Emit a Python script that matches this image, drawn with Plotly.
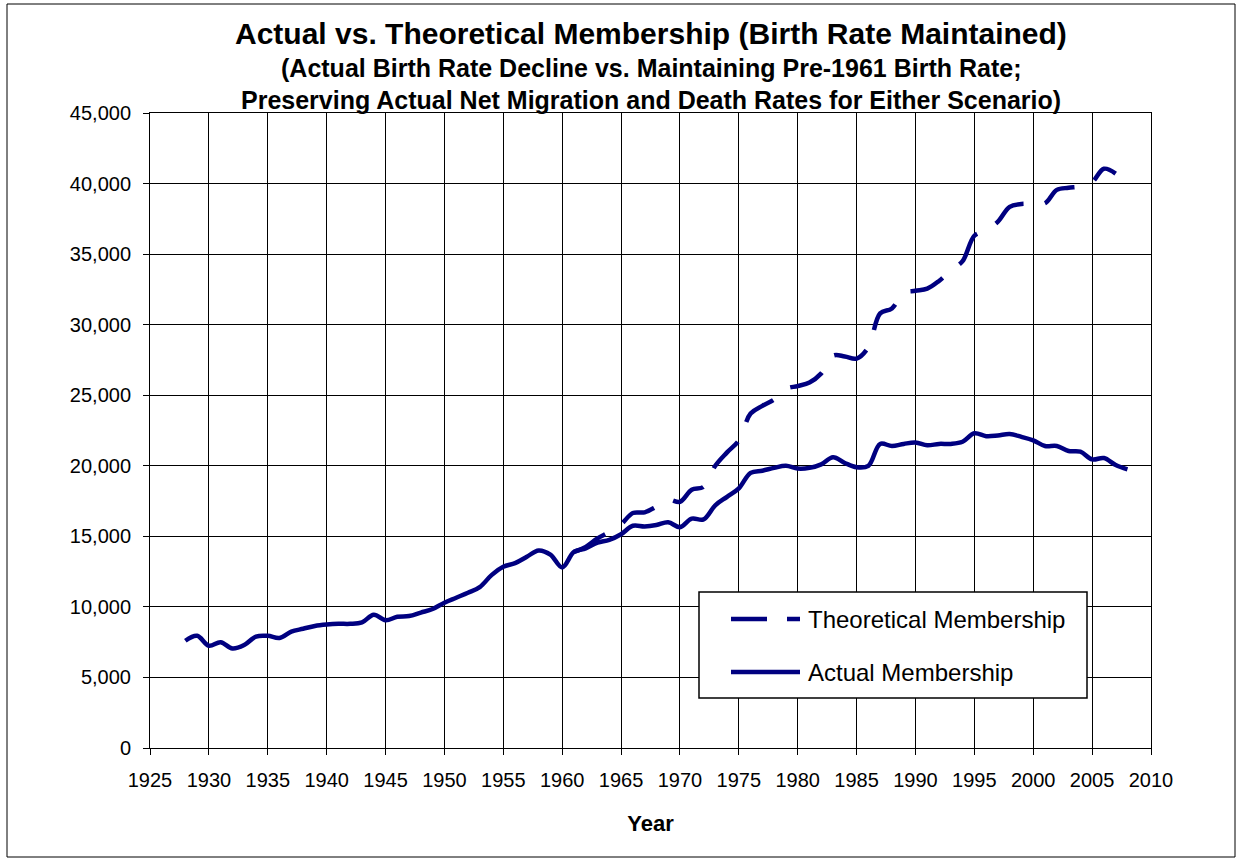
import plotly.graph_objects as go

# ---------------- data ----------------
actual_years = list(range(1928, 2009))
actual = [
    7600, 7950, 7250, 7500, 7050, 7300, 7900, 7950, 7800, 8250,      # 1928-1937
    8450, 8650, 8750, 8800, 8800, 8900, 9450, 9050, 9300, 9350,      # 1938-1947
    9600, 9850, 10300, 10650, 11000, 11400, 12250, 12850, 13100, 13550,  # 1948-1957
    14000, 13700, 12800, 13900, 14150, 14550, 14750, 15150, 15750, 15700,  # 1958-1967
    15800, 16000, 15650, 16250, 16200, 17200, 17800, 18400, 19500, 19650,  # 1968-1977
    19850, 20000, 19800, 19850, 20100, 20600, 20200, 19900, 20000, 21550,  # 1978-1987
    21400, 21550, 21650, 21450, 21550, 21550, 21700, 22300, 22100, 22150,  # 1988-1997
    22250, 22050, 21800, 21400, 21400, 21050, 21000, 20450, 20550, 20050,  # 1998-2007
    19750,                                                               # 2008
]

# theoretical scenario diverges from the actual series from 1961 onward
theoretical_years = list(range(1961, 2008))
theoretical = [
    13900, 14250, 14850, 15300, 15850, 16650, 16700,                     # 1961-1967
    17100, 17600, 17450, 18300, 18500, 20000, 20950, 21800, 23700, 24250,  # 1968-1977
    24700, 25450, 25650, 25900, 26550, 27800, 27750, 27600, 28400, 30800,  # 1978-1987
    31150, 32250, 32400, 32550, 33100, 33850, 34500, 36300, 36700, 37300,  # 1988-1997
    38350, 38550, 38550, 38600, 39550, 39700, 39800, 40100, 41050, 40700,  # 1998-2007
]

series_names = ["Theoretical Membership", "Actual Membership"]
title_line1 = "Actual vs. Theoretical Membership (Birth Rate Maintained)"
title_line2 = "(Actual Birth Rate Decline vs. Maintaining Pre-1961 Birth Rate;"
title_line3 = "Preserving Actual Net Migration and Death Rates for Either Scenario)"
x_title = "Year"

# ---------------- style ----------------
FONT = "Arial, 'Liberation Sans', sans-serif"
NAVY = "#000080"
DASH = "36px,21.5px"
W, H = 1236, 862
L, R, T, B = 150, 1151, 113, 748   # plot area in pixels


def px(xp):
    return (xp - L) / (R - L)


def py(yp):
    return (B - yp) / (B - T)


fig = go.Figure()
fig.add_trace(go.Scatter(
    x=theoretical_years, y=theoretical, name=series_names[0], mode="lines",
    line=dict(color=NAVY, width=4.5, dash=DASH, shape="spline"), showlegend=False))
fig.add_trace(go.Scatter(
    x=actual_years, y=actual, name=series_names[1], mode="lines",
    line=dict(color=NAVY, width=4.5, shape="spline"), showlegend=False))

shapes = [
    # outer chart border
    dict(type="rect", xref="paper", yref="paper", x0=px(7), x1=px(1235), y0=py(857), y1=py(4),
         line=dict(color="black", width=1), fillcolor="rgba(0,0,0,0)", layer="below"),
    # legend box
    dict(type="rect", xref="paper", yref="paper", x0=px(699), x1=px(1087), y0=py(698), y1=py(592),
         line=dict(color="black", width=1.5), fillcolor="white", layer="above"),
    dict(type="line", xref="paper", yref="paper", x0=px(731), x1=px(800), y0=py(619), y1=py(619),
         line=dict(color=NAVY, width=4.5, dash="36px,20px"), layer="above"),
    dict(type="line", xref="paper", yref="paper", x0=px(731), x1=px(800), y0=py(672), y1=py(672),
         line=dict(color=NAVY, width=4.5), layer="above"),
]

annotations = [
    dict(text="<b>%s</b>" % title_line1, xref="paper", yref="paper", x=0.5, y=py(33),
         xanchor="center", yanchor="middle", showarrow=False, font=dict(size=30, family=FONT, color="black")),
    dict(text="<b>%s</b>" % title_line2, xref="paper", yref="paper", x=0.5, y=py(68),
         xanchor="center", yanchor="middle", showarrow=False, font=dict(size=25, family=FONT, color="black")),
    dict(text="<b>%s</b>" % title_line3, xref="paper", yref="paper", x=0.5, y=py(100),
         xanchor="center", yanchor="middle", showarrow=False, font=dict(size=25, family=FONT, color="black")),
    dict(text=series_names[0], xref="paper", yref="paper", x=px(806), y=py(619),
         xanchor="left", yanchor="middle", showarrow=False, font=dict(size=24, family=FONT, color="black")),
    dict(text=series_names[1], xref="paper", yref="paper", x=px(806), y=py(672),
         xanchor="left", yanchor="middle", showarrow=False, font=dict(size=24, family=FONT, color="black")),
]

fig.update_layout(
    width=W, height=H,
    margin=dict(l=L, r=W - R, t=T, b=H - B, pad=0),
    paper_bgcolor="white", plot_bgcolor="white",
    font=dict(family=FONT, color="black", size=20),
    shapes=shapes, annotations=annotations,
    showlegend=False,
    xaxis=dict(
        range=[1925, 2010], tick0=1925, dtick=5, tickmode="linear",
        showgrid=True, gridcolor="black", gridwidth=1,
        showline=True, linecolor="black", linewidth=1, mirror=True,
        ticks="outside", ticklen=6, tickcolor="black", tickwidth=1,
        tickfont=dict(size=20, family=FONT, color="black"),
        ticklabelstandoff=8, zeroline=False,
        title=dict(text="<b>%s</b>" % x_title, font=dict(size=22, family=FONT, color="black"), standoff=25),
    ),
    yaxis=dict(
        range=[0, 45000], tick0=0, dtick=5000, tickmode="linear", tickformat=",d",
        showgrid=True, gridcolor="black", gridwidth=1,
        showline=True, linecolor="black", linewidth=1, mirror=True,
        ticks="outside", ticklen=6, tickcolor="black", tickwidth=1,
        tickfont=dict(size=20, family=FONT, color="black"),
        ticklabelstandoff=8, zeroline=False,
    ),
)

fig.write_html("out.html", config={"displayModeBar": False},
               post_script="document.body.style.margin='0';")
